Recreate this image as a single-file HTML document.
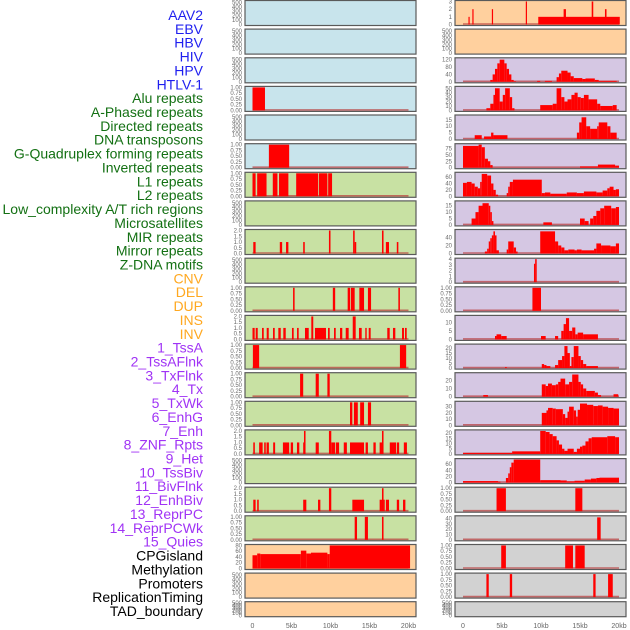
<!DOCTYPE html>
<html><head><meta charset="utf-8">
<style>
html,body{margin:0;padding:0;background:#fff;}
svg{display:block;font-family:"Liberation Sans",sans-serif;}
</style></head>
<body>
<svg id="chart" width="630" height="630" viewBox="0 0 630 630" xmlns="http://www.w3.org/2000/svg"></svg>
<script>
const trackLabels = ["AAV2","EBV","HBV","HIV","HPV","HTLV-1","Alu repeats","A-Phased repeats","Directed repeats","DNA transposons","G-Quadruplex forming repeats","Inverted repeats","L1 repeats","L2 repeats","Low_complexity A/T rich regions","Microsatellites","MIR repeats","Mirror repeats","Z-DNA motifs","CNV","DEL","DUP","INS","INV","1_TssA","2_TssAFlnk","3_TxFlnk","4_Tx","5_TxWk","6_EnhG","7_Enh","8_ZNF_Rpts","9_Het","10_TssBiv","11_BivFlnk","12_EnhBiv","13_ReprPC","14_ReprPCWk","15_Quies","CPGisland","Methylation","Promoters","ReplicationTiming","TAD_boundary"];
const labelGroups = [6,13,5,15,5];
const groupColors = ["#1f1fef","#137013","#ffa820","#a033f5","#000000"];
const kbTicks = [0,5,10,15,20];
const kbTickLabels = ["0","5kb","10kb","15kb","20kb"];

const A500 = [0,100,200,300,400,500];
const U1 = [0,0.25,0.5,0.75,1];
const T2 = [0,0.5,1,1.5,2];

// column 1 panels: background, y ticks, y max, segments [startKb,endKb,value]
const col1Bg = ["b","b","b","b","b","b","g","g","g","g","g","g","g","g","g","g","g","g","g","o","o","o"];
const col1Ticks = [A500,A500,A500,U1,A500,U1,U1,A500,T2,A500,U1,T2,U1,U1,U1,T2,A500,T2,U1,[0,20,40,60,80],A500,A500];
const col1Ymax = [520,520,520,1,520,1,1,520,2,520,1,2,1,1,1,2,520,2,1,80,520,520];
const col1Segs = [
 [],[],[],
 [[0,1.6,1]],
 [],
 [[2.1,4.7,1]],
 [[0,0.4,1],[0.6,1.8,1],[2.6,3.2,1],[3.4,4.6,1],[5.6,8.4,1],[8.5,9.6,1],[9.7,10.2,1]],
 [],
 [[0.1,0.4,1],[3.5,3.8,1],[4.3,4.6,1],[6.5,6.7,1],[9.8,10.0,2],[12.9,13.1,2],[13.1,13.3,1],[16.6,16.8,2],[17.1,17.5,1],[18.5,18.7,1]],
 [],
 [[5.2,5.4,1],[10.3,10.6,1],[12.2,12.5,1],[12.6,13.1,1],[13.7,14.3,1],[14.8,15.2,1],[18.7,18.9,1]],
 [[0,0.28,1],[0.41,0.67,1],[1.22,1.44,1],[1.82,2.08,1],[2.63,2.85,1],[3.31,3.62,1],[3.95,4.26,1],[5.06,5.28,1],[5.71,5.92,1],[6.73,7.21,1],[7.54,7.79,2],[8.01,9.42,1],[9.68,9.9,1],[10.45,10.67,1],[11.22,11.51,1],[11.95,12.33,1],[12.85,13.23,2],[13.65,14.0,1],[14.46,14.64,1],[14.9,15.15,1],[17.28,17.59,1],[18.01,18.31,1],[19.17,19.42,1],[19.55,19.77,1]],
 [[0.05,0.85,1],[18.9,19.7,1]],
 [[6.1,6.5,1],[8.1,8.5,1],[9.6,9.9,1]],
 [[12.5,12.8,1],[13.0,13.5,1],[13.8,14.3,1],[14.8,15.2,1]],
 [[0.1,0.3,1],[0.85,1.3,1],[1.5,1.7,1],[1.8,2.1,1],[2.65,2.9,1],[3.9,4.7,1],[4.9,5.2,1],[5.7,6.0,1],[6.5,6.6,1],[6.6,6.8,2],[8.1,8.5,1],[9.8,10.1,2],[10.1,10.6,1],[10.7,11.1,1],[11.7,12.1,1],[12.5,14.3,1],[14.5,14.8,1],[15.5,15.8,1],[16.3,16.6,1],[16.6,16.8,2],[17.6,18.4,1],[18.5,18.8,1],[19.4,19.8,1]],
 [],
 [[0.1,0.4,1],[0.6,0.8,1],[6.5,6.9,1],[8.4,8.7,1],[9.8,10.1,2],[12.8,14.3,1],[16.3,16.6,1],[16.6,16.8,2],[16.8,16.9,1],[17.1,17.5,1],[18.5,18.8,1],[19.3,19.6,1]],
 [[13.1,13.4,1],[14.4,14.8,1],[16.6,16.8,1]],
 [[0,0.6,46],[0.6,1.0,52],[1.0,6.2,50],[6.2,6.9,62],[6.9,7.5,52],[7.5,9.6,55],[9.6,9.9,50],[9.9,20.2,80]],
 [],[]
];

// column 2 panels
const col2Bg = ["o","o","p","p","p","p","p","p","p","p","p","p","p","p","p","p","p","y","y","y","y","y"];
const col2Ticks = [[0,1,2,3],A500,[0,40,80,120],[0,10,20,30,40,50],[0,5,10,15],[0,25,50,75],[0,20,40,60],[0,5,10,15],[0,20,40],[0,1,2,3,4],U1,[0,5,10],[0,5,10,15,20],[0,10,20],[0,10,20,30],[0,5,10,15,20],[0,20,40,60],U1,[0,10,20,30,40],U1,U1,A500];
const col2Ymax = [3,520,125,52,18,90,72,18,57,4,1,13.5,23,28,37,22,75,1,43,1,1,520];
const col2Segs = [
 [[0.7,0.85,1],[1.2,1.35,2],[3.7,3.85,2],[8.05,8.2,3],[9.65,20.1,1],[12.9,13.2,2],[16.5,16.7,3],[18.2,18.4,2]],
 [],
 [[3.5,3.8,10],[3.8,4.1,40],[4.1,4.4,70],[4.4,4.7,100],[4.7,5.3,120],[5.3,5.6,100],[5.6,5.9,70],[5.9,6.2,40],[6.2,6.5,10],[6.5,6.8,3],[9.5,9.9,5],[10.5,11.4,5],[12.0,12.3,25],[12.3,12.6,45],[12.6,13.4,60],[13.4,13.8,50],[13.8,14.2,30],[14.2,15.3,20],[15.3,15.7,15],[15.7,16.9,18],[16.9,17.4,10],[17.4,19.7,5]],
 [[3.0,3.5,5],[3.5,3.9,15],[3.9,4.1,35],[4.1,4.7,50],[4.7,5.1,20],[5.1,5.4,35],[5.4,6.0,50],[6.0,6.3,30],[6.3,6.6,5],[9.9,11.5,12],[11.5,12.0,15],[12.0,12.6,50],[12.6,13.0,30],[13.0,13.4,20],[13.4,13.9,25],[13.9,14.3,35],[14.3,14.7,40],[14.7,15.1,30],[15.1,15.5,28],[15.5,16.1,35],[16.1,17.2,25],[17.2,17.6,15],[17.6,19.2,10],[19.2,19.7,12]],
 [[1.5,2.4,3],[2.7,3.6,2],[3.6,3.9,5],[3.9,5.7,3],[14.6,14.9,5],[14.9,15.2,13],[15.2,15.8,17],[15.8,16.3,10],[16.3,17.2,8],[17.2,17.4,10],[17.4,18.5,13],[18.5,18.9,10],[18.9,19.7,5]],
 [[0,2,85],[2,2.4,90],[2.4,2.8,80],[2.8,3.2,35],[3.2,3.5,25],[3.5,3.8,10],[15,17.3,5],[17.3,19.5,12],[19.5,20,8]],
 [[0,0.5,42],[0.5,1.1,45],[1.1,1.5,40],[1.5,1.9,30],[1.9,2.2,25],[2.2,2.4,45],[2.4,3.1,70],[3.1,3.6,65],[3.6,3.9,40],[3.9,4.2,20],[4.2,4.5,5],[5.6,5.8,10],[5.8,6.0,30],[6.0,6.4,45],[6.4,10.1,52],[10.1,10.5,10],[10.5,11.2,12],[11.2,13.3,8],[13.3,14.6,12],[14.6,15.5,10],[15.5,17.1,15],[17.1,17.9,12],[17.9,18.5,18],[18.5,18.8,25],[18.8,19.3,30],[19.3,19.6,20],[19.6,20,22]],
 [[1.1,1.6,5],[1.6,2.0,10],[2.0,2.5,15],[2.5,3.3,17],[3.3,3.5,15],[3.5,3.7,10],[3.7,3.9,3],[10.3,11.4,2],[15,15.6,5],[15.6,16.1,3],[16.3,16.7,5],[16.7,17.1,7],[17.1,17.6,11],[17.6,18.1,13],[18.1,19,15],[19,19.6,13],[19.6,20,14]],
 [[2.8,3.1,5],[3.1,3.3,12],[3.3,3.5,30],[3.5,3.7,38],[3.7,3.9,45],[3.9,4.1,55],[4.1,4.3,45],[4.3,4.6,8],[5.6,5.8,10],[5.8,6.5,30],[6.5,6.8,15],[6.8,7.0,5],[9.9,11.8,55],[11.8,12.2,30],[12.2,12.6,20],[12.6,13.0,15],[13.0,13.5,8],[13.5,14.3,10],[14.3,14.6,8],[14.6,15.2,10],[15.2,16.8,8],[16.8,17.1,12],[17.1,17.7,25],[17.7,18.9,20],[18.9,19.6,18],[19.6,20,25]],
 [[9.1,9.25,3.2],[9.25,9.45,4]],
 [[8.9,10.0,1]],
 [[4.1,4.3,2],[4.3,4.9,3],[4.9,5.6,2],[10.0,10.6,2],[11.8,12.2,2],[12.6,12.9,5],[12.9,13.2,9],[13.2,13.6,12.5],[13.6,14.0,5],[14.0,14.4,7],[14.4,14.7,3],[14.7,15.4,4],[15.4,17.3,3]],
 [[5.4,5.6,1],[10.1,10.4,4],[10.4,10.7,3],[10.7,11.2,2],[11.8,12.2,3],[12.2,12.7,8],[12.7,13.0,12],[13.0,13.4,22],[13.4,13.7,15],[13.7,13.9,2],[13.9,14.2,11],[14.2,14.8,22],[14.8,15.1,12],[15.1,15.4,8],[15.4,15.8,4],[15.8,17.3,2]],
 [[2.6,3.2,2],[10.1,10.6,15],[10.6,10.9,13],[10.9,11.4,16],[11.4,11.9,14],[11.9,12.2,15],[12.2,12.5,18],[12.5,13.1,22],[13.1,13.6,15],[13.6,14.0,18],[14.0,14.8,27],[14.8,15.1,18],[15.1,15.4,15],[15.4,15.8,10],[15.8,16.9,7],[16.9,17.3,5],[17.3,17.7,2],[19.3,19.9,3]],
 [[10.1,10.7,20],[10.7,10.9,24],[10.9,11.5,28],[11.5,11.9,27],[11.9,12.8,26],[12.8,13.1,18],[13.1,13.4,12],[13.4,13.6,22],[13.6,14.2,30],[14.2,14.5,24],[14.5,14.7,14],[14.7,15.0,25],[15.0,15.9,35],[15.9,16.7,33],[16.7,17.3,31],[17.3,17.9,32],[17.9,18.6,30],[18.6,19.3,28],[19.3,20,27]],
 [[0,6.3,1],[6.3,9.9,2.5],[9.9,10.6,22],[10.6,11.1,21],[11.1,11.5,19],[11.5,12.0,17],[12.0,12.3,13],[12.3,12.7,9],[12.7,13.0,5],[13.0,13.4,3],[13.4,14.2,5],[14.2,14.6,2],[14.6,15.0,5],[15.0,15.3,7],[15.3,15.7,8],[15.7,16.1,12],[16.1,16.5,15],[16.5,18.5,16],[18.5,19.5,17],[19.5,20,16]],
 [[0,4.5,5],[4.5,4.8,3],[5.5,5.8,15],[5.8,6.0,30],[6.0,6.2,50],[6.2,6.5,65],[6.5,9.9,75],[9.9,12.5,8],[12.5,13.3,7],[13.3,14.3,4],[14.3,15.6,6],[15.6,16.4,10],[16.4,17.1,13],[17.1,17.5,15],[17.5,20,16]],
 [[4.3,5.5,1],[14.4,15.3,1]],
 [[17.2,17.65,42]],
 [[4.9,5.5,1],[13.1,14.1,1],[14.4,15.6,1]],
 [[3.0,3.3,1],[6.0,6.3,1],[16.7,17.0,1],[18.6,19.2,1]],
 []
];

const NS = "http://www.w3.org/2000/svg";
const svg = document.getElementById("chart");
const bgColors = {b:"#c8e4ec",g:"#c8e1a3",o:"#ffd09e",p:"#d5c7e3",y:"#d2d2d2"};
function mk(tag, attrs, parent){
  const e = document.createElementNS(NS, tag);
  for (const k in attrs) e.setAttribute(k, attrs[k]);
  (parent||svg).appendChild(e);
  return e;
}
function fmtTick(ticks, v){
  if (ticks === U1) return v.toFixed(2);
  if (ticks === T2) return v.toFixed(1);
  return String(v);
}

// left labels
let gi = 0, gcount = 0;
trackLabels.forEach((lab, i) => {
  while (gcount >= labelGroups[gi]) { gi++; gcount = 0; }
  gcount++;
  const t = mk("text", {x:203, y:(20 + i*13.86).toFixed(1), "text-anchor":"end", "font-size":"14", fill:groupColors[gi]});
  t.textContent = lab;
  
  
});

function drawColumn(x0, x1, zeroX, bgs, ticksArr, ymaxArr, segsArr, colName){
  const kbScale = 7.8;
  const xs = kb => zeroX + kb * kbScale;
  for (let r = 0; r < 22; r++){
    const top = 0.5 + r * 28.63;
    const h = r === 21 ? 15 : 25;
    const g = mk("g", {});
    
    
    const rect = mk("rect", {x:x0, y:top.toFixed(1), width:x1-x0, height:h, fill:bgColors[bgs[r]], stroke:"#5a5a5a", "stroke-width":"1.2"}, g);
    
    
    const ymax = ymaxArr[r];
    const ys = v => top + 1 + (1 - Math.min(v, ymax) / ymax) * (h - 2);
    const ticks = ticksArr[r];
    ticks.forEach(v => {
      const t = mk("text", {x:x0-3, y:(ys(v)+2).toFixed(1), "text-anchor":"end", "font-size":"6", fill:"#6a6a6a"}, g);
      t.textContent = fmtTick(ticks, v);
      
      
    });
    const segs = segsArr[r];
    if (segs.length){
      const bl = mk("line", {x1:xs(0), x2:xs(20), y1:(ys(0)-0.5).toFixed(1), y2:(ys(0)-0.5).toFixed(1), stroke:"#b83a3a", "stroke-opacity":"0.7", "stroke-width":"1.6"}, g);
      
      
      segs.forEach(s => {
        const bx = xs(s[0]), bw = Math.max(1.2, xs(s[1]) - xs(s[0]));
        const by = ys(s[2]);
        const b = mk("rect", {x:bx.toFixed(2), y:by.toFixed(2), width:bw.toFixed(2), height:(ys(0)-by).toFixed(2), fill:"#ff0000"}, g);
        
        
      });
    }
  }
  kbTicks.forEach((k, i) => {
    const t = mk("text", {x:xs(k).toFixed(1), y:628, "text-anchor":"middle", "font-size":"7", fill:"#666"});
    t.textContent = kbTickLabels[i];
    
    
  });
}
drawColumn(245, 416, 252.5, col1Bg, col1Ticks, col1Ymax, col1Segs, "left");
drawColumn(455, 626, 463, col2Bg, col2Ticks, col2Ymax, col2Segs, "right");
</script>
</body></html>
